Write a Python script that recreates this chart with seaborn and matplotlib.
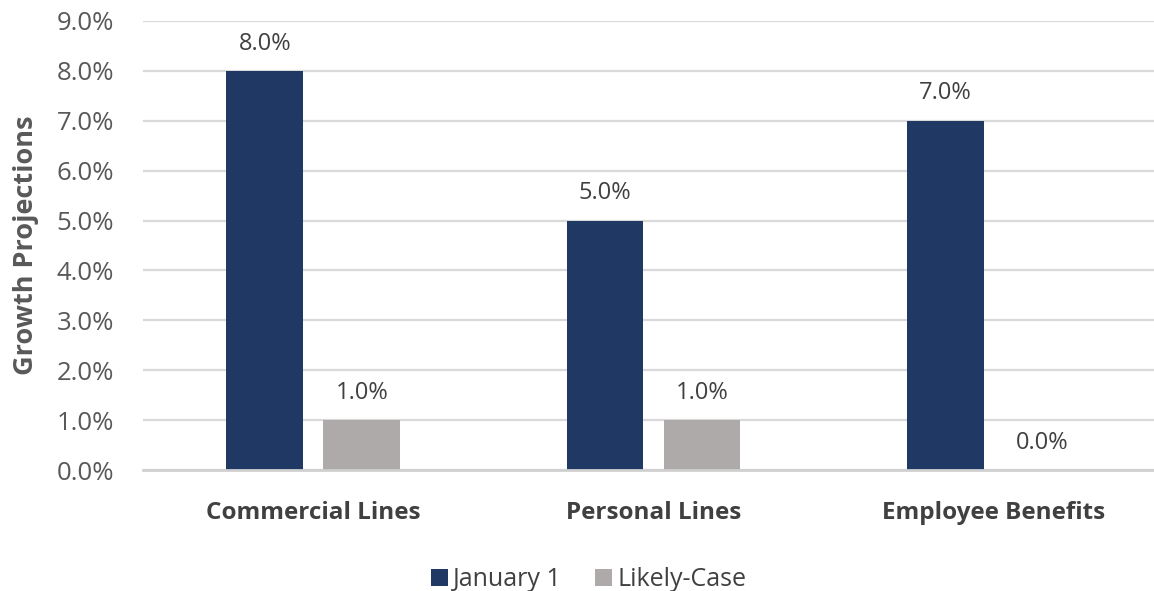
import pandas as pd
import matplotlib.pyplot as plt
import seaborn as sns
from matplotlib.ticker import PercentFormatter

categories = ["Commercial Lines", "Personal Lines", "Employee Benefits"]
january_1 = [0.08, 0.05, 0.07]
likely_case = [0.01, 0.01, 0.0]
series_names = ["January 1", "Likely-Case"]

df = pd.DataFrame({
    "Line": categories * 2,
    "Series": [series_names[0]] * 3 + [series_names[1]] * 3,
    "Growth": january_1 + likely_case,
})

sns.set_style("white")
plt.rcParams["font.family"] = ["Open Sans", "DejaVu Sans"]

fig = plt.figure(figsize=(11.54, 5.91), dpi=100)
ax = fig.add_axes([0.124, 0.2047, 0.876, 0.7598])

sns.barplot(data=df, x="Line", y="Growth", hue="Series",
            palette=["#203864", "#AEAAAA"], width=0.57, gap=0.21,
            saturation=1, linewidth=0, ax=ax, legend=True)

for c in ax.containers:
    ax.bar_label(c, labels=[f"{v*100:.1f}%" for v in c.datavalues],
                 padding=11, fontsize=17, color="#404040")

ax.set_ylim(0, 0.09)
ax.set_yticks([i / 100 for i in range(10)])
ax.yaxis.set_major_formatter(PercentFormatter(1.0, decimals=1))
ax.set_xlim(-0.5, 2.47)
ax.grid(axis="y", color="#d9d9d9", linewidth=1.6)
ax.set_axisbelow(True)
for s in ["top", "right", "left"]:
    ax.spines[s].set_visible(False)
ax.spines["bottom"].set_color("#d0d0d0")
ax.spines["bottom"].set_linewidth(2)

ax.tick_params(axis="y", length=0, labelsize=18.5, labelcolor="#595959", pad=21)
ax.tick_params(axis="x", length=0, labelsize=17.5, labelcolor="#404040", pad=22)
for t in ax.get_xticklabels():
    t.set_fontweight("bold")
ax.set_xlabel("")
ax.set_ylabel("Growth Projections", fontsize=19.5, fontweight="bold",
              color="#595959")
ax.yaxis.set_label_coords(-0.103, 0.5)

handles, labels = ax.get_legend_handles_labels()
ax.legend_.remove()
fig.legend(handles, labels, loc="lower center", bbox_to_anchor=(0.51, -0.04),
           ncol=2, frameon=False, fontsize=18, handlelength=0.7,
           handleheight=0.7, handletextpad=0.2, columnspacing=1.3,
           labelcolor="#404040")

fig.savefig("out.png", dpi=100)
